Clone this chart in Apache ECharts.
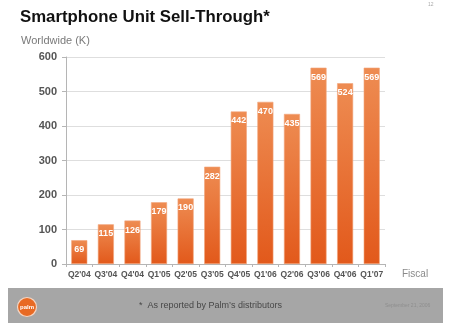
<!DOCTYPE html>
<html>
<head>
<meta charset="utf-8">
<style>
  html, body { margin: 0; padding: 0; background: #fff; }
  #chart { width: 450px; height: 331px; }
</style>
<script src="https://cdn.jsdelivr.net/npm/echarts@6/dist/echarts.min.js"></script>
</head>
<body>
<div id="chart"></div>
<script>
// Quarterly smartphone unit sell-through, thousands of units
const quarters = ["Q2'04", "Q3'04", "Q4'04", "Q1'05", "Q2'05", "Q3'05", "Q4'05", "Q1'06", "Q2'06", "Q3'06", "Q4'06", "Q1'07"];
const units = [69, 115, 126, 179, 190, 282, 442, 470, 435, 569, 524, 569];
const yTicks = [0, 100, 200, 300, 400, 500, 600];

const chart = echarts.init(document.getElementById('chart'), null, { renderer: 'canvas' });
const font = 'Liberation Sans, Arial, Helvetica, sans-serif';

chart.setOption({
  animation: false,
  backgroundColor: '#ffffff',
  textStyle: { fontFamily: font },
  grid: { left: 66, right: 65, top: 57, bottom: 67, containLabel: false },
  xAxis: {
    type: 'category',
    data: quarters,
    name: 'Fiscal',
    nameLocation: 'end',
    nameGap: 17,
    nameTextStyle: { color: '#8a8a8a', fontSize: 10, fontFamily: font, verticalAlign: 'top', padding: [5, 0, 0, 0] },
    axisLine: { lineStyle: { color: '#b5b5b5', width: 1 } },
    axisTick: { show: true, alignWithLabel: false, length: 3, lineStyle: { color: '#b5b5b5' } },
    axisLabel: { color: '#555', fontSize: 8.5, fontWeight: 'bold', margin: 6, interval: 0 }
  },
  yAxis: {
    type: 'value',
    min: yTicks[0],
    max: yTicks[yTicks.length - 1],
    interval: 100,
    name: 'Worldwide (K)',
    nameLocation: 'end',
    nameGap: 11,
    nameTextStyle: { color: '#7a7a7a', fontSize: 11, fontFamily: font, align: 'left', padding: [0, 0, 0, -45] },
    axisLine: { show: true, lineStyle: { color: '#b5b5b5', width: 1 } },
    axisTick: { show: true, length: 4, lineStyle: { color: '#b5b5b5' } },
    axisLabel: { color: '#555', fontSize: 11, fontWeight: 'bold', margin: 9 },
    splitLine: { lineStyle: { color: '#dedede', width: 1 } }
  },
  series: [{
    type: 'bar',
    data: units,
    barWidth: 16,
    itemStyle: {
      color: new echarts.graphic.LinearGradient(0, 0, 0, 1, [
        { offset: 0, color: '#ee8c52' },
        { offset: 1, color: '#e2591b' }
      ]),
      borderColor: '#f2a57a',
      borderWidth: 0.6
    },
    label: {
      show: true,
      position: 'insideTop',
      distance: 5,
      color: '#ffffff',
      fontSize: 9,
      fontWeight: 'bold',
      fontFamily: font
    }
  }],
  title: {
    text: 'Smartphone Unit Sell-Through*',
    left: 20,
    top: 9,
    padding: 0,
    textStyle: { color: '#111', fontSize: 16.8, fontWeight: 'bold', fontFamily: font }
  },
  graphic: [
    { type: 'text', left: 428, top: 2, style: { text: '12', fill: '#aaa', font: '5px ' + font } },
    // footer band
    { type: 'rect', shape: { x: 8, y: 288, width: 435, height: 35 }, style: { fill: '#a6a6a6' }, z: 0 },
    { type: 'circle', shape: { cx: 27, cy: 307, r: 9.5 }, style: { fill: '#e86a24', stroke: '#f4d6c4', lineWidth: 1.2 }, z: 2 },
    { type: 'text', x: 27, y: 307, style: { text: 'palm', fill: '#fff', font: 'bold 6px ' + font, textAlign: 'center', textVerticalAlign: 'middle' }, z: 3 },
    { type: 'text', x: 139, y: 306, style: { text: '*  As reported by Palm\u2019s distributors', fill: '#474747', font: '9px ' + font, textVerticalAlign: 'middle' }, z: 3 },
    { type: 'text', x: 385, y: 306, style: { text: 'September 21, 2006', fill: '#8e8e8e', font: '5px ' + font, textVerticalAlign: 'middle' }, z: 3 }
  ]
});
</script>
</body>
</html>
